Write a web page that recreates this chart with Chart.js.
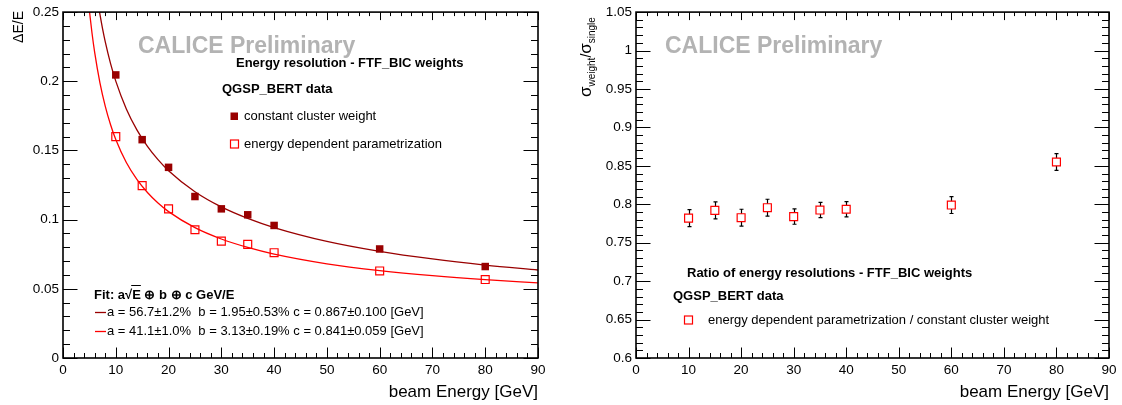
<!DOCTYPE html>
<html>
<head>
<meta charset="utf-8">
<script src="https://cdn.jsdelivr.net/npm/chart.js@4.4.1/dist/chart.umd.min.js"></script>
<style>
    body { margin: 0; background: #fff; }
    #wrap { position: relative; width: 1122px; height: 405px; }
    canvas { position: absolute; top: 0; }
    #left-chart { left: 0; }
    #right-chart { left: 561px; }
</style>
</head>
<body>
<div id="wrap">
    <canvas id="left-chart" width="561" height="405" style="width:561px;height:405px"></canvas>
    <canvas id="right-chart" width="561" height="405" style="width:561px;height:405px"></canvas>
</div>
<script>
// CALICE energy resolution plots (FTF_BIC weights)

// Beam energies [GeV]
const energies = [10, 15, 20, 25, 30, 35, 40, 60, 80];

// Left pad: resolution dE/E
const resConstWeight = [0.2046, 0.1578, 0.1378, 0.1167, 0.1078, 0.1035, 0.0958, 0.0788, 0.0661];
const resEnergyDep = [0.1600, 0.1246, 0.1078, 0.0927, 0.0845, 0.0821, 0.0761, 0.0629, 0.0567];

// Fit curves
const fitConstE = [6.8, 7, 7.5, 8, 9, 10, 12, 14, 16, 18, 20, 25, 30, 35, 40, 50, 60, 70, 80, 90];
const fitConstRes = [0.2528, 0.2483, 0.2379, 0.2287, 0.2130, 0.2001, 0.1800, 0.1649, 0.1530, 0.1434,
    0.1354, 0.1202, 0.1092, 0.1009, 0.0943, 0.0843, 0.0771, 0.0716, 0.0672, 0.0636];
const fitDepE = [5, 5.5, 6, 7, 8, 9, 10, 12, 14, 16, 18, 20, 25, 30, 35, 40, 50, 60, 70, 80, 90];
const fitDepRes = [0.2511, 0.2347, 0.2209, 0.1989, 0.1821, 0.1688, 0.1579, 0.1413, 0.1291, 0.1196,
    0.1120, 0.1058, 0.0942, 0.0860, 0.0799, 0.0751, 0.0681, 0.0632, 0.0595, 0.0566, 0.0543];

// Right pad: ratio of resolutions with errors
const ratio = [0.782, 0.792, 0.7825, 0.7955, 0.784, 0.7925, 0.7935, 0.799, 0.855];
const ratioErr = [0.011, 0.011, 0.011, 0.011, 0.010, 0.010, 0.010, 0.011, 0.011];

// Tick labels
const xTickLabels = ['0', '10', '20', '30', '40', '50', '60', '70', '80', '90'];
const leftYTickLabels = ['0', '0.05', '0.1', '0.15', '0.2', '0.25'];
const rightYTickLabels = ['0.6', '0.65', '0.7', '0.75', '0.8', '0.85', '0.9', '0.95', '1', '1.05'];

const DARK_RED = '#990000';
const RED = '#ff0000';
const GREY = '#b3b3b3';
const FONT = '"Liberation Sans", Arial, Helvetica, sans-serif';

function points(xs, ys) {
    return xs.map((x, i) => ({ x: x, y: ys[i] }));
}

// ROOT style frame: box with inward ticks on all four sides
function frameTicks(cfg) {
    return {
        id: 'frameTicks',
        afterDatasetsDraw(chart) {
            const { ctx, chartArea: a } = chart;
            const xs = chart.scales.x, ys = chart.scales.y;
            ctx.save();
            ctx.strokeStyle = '#000';
            ctx.lineWidth = 1;
            ctx.beginPath();

            const nx = Math.round((xs.max - xs.min) / cfg.xMinor);
            for (let i = 0; i <= nx; i++) {
                const px = Math.round(xs.getPixelForValue(xs.min + i * cfg.xMinor)) + 0.5;
                const major = i % cfg.xPer === 0;
                const lb = major ? 10.5 : 5;
                const lt = major ? 8 : 4;
                ctx.moveTo(px, a.bottom); ctx.lineTo(px, a.bottom - lb);
                ctx.moveTo(px, a.top); ctx.lineTo(px, a.top + lt);
            }
            const ny = Math.round((ys.max - ys.min) / cfg.yMinor);
            for (let i = 0; i <= ny; i++) {
                const py = Math.round(ys.getPixelForValue(ys.min + i * cfg.yMinor)) + 0.5;
                const major = i % cfg.yPer === 0;
                const l = major ? 14.5 : 7;
                ctx.moveTo(a.left, py); ctx.lineTo(a.left + l, py);
                ctx.moveTo(a.right, py); ctx.lineTo(a.right - l, py);
            }
            ctx.stroke();

            ctx.lineWidth = 1.6;
            ctx.strokeRect(a.left, a.top, a.right - a.left, a.bottom - a.top);
            ctx.restore();
        }
    };
}

function text(ctx, str, x, y, size, opts = {}) {
    ctx.font = (opts.bold ? 'bold ' : '') + size + 'px ' + FONT;
    ctx.fillStyle = opts.color || '#000';
    ctx.textAlign = opts.align || 'left';
    ctx.textBaseline = opts.baseline || 'middle';
    ctx.fillText(str, x, y);
}

function xTitle(ctx, right) {
    text(ctx, 'beam Energy [GeV]', right, 397, 17, { align: 'right', baseline: 'alphabetic' });
}

// Error bars for the ratio plot
const errorBars = {
    id: 'errorBars',
    beforeDatasetsDraw(chart) {
        const { ctx } = chart;
        const xs = chart.scales.x, ys = chart.scales.y;
        ctx.save();
        ctx.strokeStyle = '#000';
        ctx.lineWidth = 1.2;
        ctx.beginPath();
        energies.forEach((e, i) => {
            const px = Math.round(xs.getPixelForValue(e)) + 0.5;
            const hi = ys.getPixelForValue(ratio[i] + ratioErr[i]);
            const lo = ys.getPixelForValue(ratio[i] - ratioErr[i]);
            ctx.moveTo(px, hi); ctx.lineTo(px, lo);
            ctx.moveTo(px - 2, hi); ctx.lineTo(px + 2, hi);
            ctx.moveTo(px - 2, lo); ctx.lineTo(px + 2, lo);
        });
        ctx.stroke();
        ctx.restore();
    }
};

const leftTexts = {
    id: 'leftTexts',
    afterDraw(chart) {
        const ctx = chart.ctx;
        ctx.save();
        text(ctx, 'CALICE Preliminary', 138, 53, 23, { bold: true, color: GREY, baseline: 'alphabetic' });
        text(ctx, 'Energy resolution - FTF_BIC weights', 236, 63, 13, { bold: true });
        text(ctx, 'QGSP_BERT data', 222, 89, 13, { bold: true });

        ctx.fillStyle = DARK_RED;
        ctx.fillRect(230.5, 112.5, 7.5, 7.5);
        text(ctx, 'constant cluster weight', 244, 116, 13);
        ctx.strokeStyle = RED;
        ctx.lineWidth = 1.2;
        ctx.strokeRect(230.5, 140, 8, 8);
        text(ctx, 'energy dependent parametrization', 244, 144, 13);

        // fit formula, with the bar of the square root over E
        const fit = 'Fit: a\u221AE \u2295 b \u2295 c GeV/E';
        text(ctx, fit, 94, 295, 13, { bold: true });
        const x0 = 94 + ctx.measureText('Fit: a\u221A').width - 1;
        const x1 = 94 + ctx.measureText('Fit: a\u221AE').width;
        ctx.strokeStyle = '#000';
        ctx.lineWidth = 1;
        ctx.beginPath();
        ctx.moveTo(x0, 285.5); ctx.lineTo(x1, 285.5);
        ctx.stroke();

        ctx.lineWidth = 1.3;
        ctx.strokeStyle = DARK_RED;
        ctx.beginPath(); ctx.moveTo(95, 312.5); ctx.lineTo(106, 312.5); ctx.stroke();
        text(ctx, 'a = 56.7\u00B11.2%  b = 1.95\u00B10.53% c = 0.867\u00B10.100 [GeV]', 107, 312, 13);
        ctx.strokeStyle = RED;
        ctx.beginPath(); ctx.moveTo(95, 331.5); ctx.lineTo(106, 331.5); ctx.stroke();
        text(ctx, 'a = 41.1\u00B11.0%  b = 3.13\u00B10.19% c = 0.841\u00B10.059 [GeV]', 107, 331, 13);

        // axis titles
        xTitle(ctx, 538);
        ctx.translate(23, 11);
        ctx.rotate(-Math.PI / 2);
        text(ctx, '\u0394E/E', 0, 0, 14, { align: 'right', baseline: 'alphabetic' });
        ctx.restore();
    }
};

const rightTexts = {
    id: 'rightTexts',
    afterDraw(chart) {
        const ctx = chart.ctx;
        ctx.save();
        text(ctx, 'CALICE Preliminary', 104, 53, 23, { bold: true, color: GREY, baseline: 'alphabetic' });
        text(ctx, 'Ratio of energy resolutions - FTF_BIC weights', 126, 273, 13, { bold: true });
        text(ctx, 'QGSP_BERT data', 112, 296, 13, { bold: true });
        ctx.strokeStyle = RED;
        ctx.lineWidth = 1.2;
        ctx.strokeRect(123.5, 316, 8, 8);
        text(ctx, 'energy dependent parametrization / constant cluster weight', 147, 320, 13);

        xTitle(ctx, 548);

        // sigma_weight / sigma_single, rotated
        ctx.translate(30, 97);
        ctx.rotate(-Math.PI / 2);
        let x = 0;
        const part = (s, size, dy) => {
            text(ctx, s, x, dy, size, { baseline: 'alphabetic' });
            x += ctx.measureText(s).width;
        };
        part('\u03C3', 17, 0);
        part('weight', 10, 4);
        part('/', 14, 0);
        part('\u03C3', 17, 0);
        part('single', 10, 4);
        ctx.restore();
    }
};

function axisOpts(min, max, step, labels, extra) {
    return Object.assign({
        type: 'linear',
        min: min,
        max: max,
        grid: { display: false, drawTicks: false },
        border: { display: false },
        ticks: {
            stepSize: step,
            padding: 4,
            color: '#000',
            font: { family: FONT, size: 13.5 },
            maxRotation: 0,
            autoSkip: false,
            callback: (v, i) => labels[i] !== undefined ? labels[i] : ''
        }
    }, extra);
}

function baseOptions(yMin, yMax, yStep, yLabels, yWidth, padRight, padTop) {
    return {
        responsive: false,
        animation: false,
        devicePixelRatio: 1,
        layout: { padding: { left: 0, right: padRight, top: padTop, bottom: 0 } },
        plugins: { legend: { display: false }, tooltip: { enabled: false } },
        scales: {
            x: axisOpts(0, 90, 10, xTickLabels, {
                afterFit: s => { s.height = 47; }
            }),
            y: axisOpts(yMin, yMax, yStep, yLabels, {
                afterFit: s => { s.width = yWidth; }
            })
        }
    };
}

new Chart(document.getElementById('left-chart'), {
    type: 'scatter',
    data: {
        datasets: [
            {
                data: points(fitConstE, fitConstRes),
                showLine: true,
                borderColor: DARK_RED,
                borderWidth: 1.3,
                pointRadius: 0,
                cubicInterpolationMode: 'monotone'
            },
            {
                data: points(fitDepE, fitDepRes),
                showLine: true,
                borderColor: RED,
                borderWidth: 1.3,
                pointRadius: 0,
                cubicInterpolationMode: 'monotone'
            },
            {
                data: points(energies, resConstWeight),
                pointStyle: 'rect',
                pointRadius: 5.3,
                backgroundColor: DARK_RED,
                borderColor: DARK_RED,
                borderWidth: 0
            },
            {
                data: points(energies, resEnergyDep),
                pointStyle: 'rect',
                pointRadius: 5.6,
                backgroundColor: '#fff',
                borderColor: RED,
                borderWidth: 1.2
            }
        ]
    },
    options: baseOptions(0, 0.25, 0.05, leftYTickLabels, 63, 23, 11),
    plugins: [frameTicks({ xMinor: 2, xPer: 5, yMinor: 0.01, yPer: 5 }), leftTexts]
});

new Chart(document.getElementById('right-chart'), {
    type: 'scatter',
    data: {
        datasets: [
            {
                data: points(energies, ratio),
                pointStyle: 'rect',
                pointRadius: 5.6,
                backgroundColor: '#fff',
                borderColor: RED,
                borderWidth: 1.2
            }
        ]
    },
    options: baseOptions(0.6, 1.05, 0.05, rightYTickLabels, 75, 13, 12),
    plugins: [frameTicks({ xMinor: 2, xPer: 5, yMinor: 0.01, yPer: 5 }), errorBars, rightTexts]
});
</script>
</body>
</html>
